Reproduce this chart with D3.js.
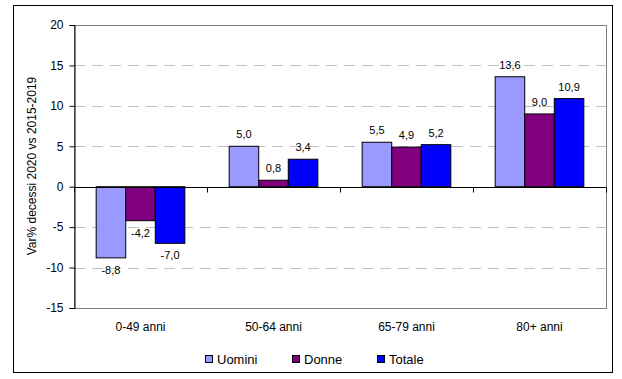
<!DOCTYPE html>
<html><head><meta charset="utf-8">
<script src="https://cdn.jsdelivr.net/npm/d3@7"></script>
<style>body{margin:0;background:#fff}svg{display:block;font-family:"Liberation Sans",Arial,sans-serif}</style>
</head><body><svg id="c" width="622" height="379"></svg>
<script>
const categories = ["0-49 anni","50-64 anni","65-79 anni","80+ anni"];
const seriesNames = ["Uomini","Donne","Totale"];
const uomini = [-8.8, 5.0, 5.5, 13.6];
const donne = [-4.2, 0.8, 4.9, 9.0];
const totale = [-7.0, 3.4, 5.2, 10.9];
const yTicks = [-15,-10,-5,0,5,10,15,20];
const colors = ["#9999FF","#800080","#0000FF"];
const series = [uomini, donne, totale];

const svg = d3.select("#c");
svg.append("rect").attr("x",13.5).attr("y",5.5).attr("width",599).attr("height",367)
  .attr("fill","#fff").attr("stroke","#000").attr("stroke-width",1);

const L=74, R=606, T=25, B=308;
const y = d3.scaleLinear().domain([-15,20]).range([B,T]);
const x0 = d3.scaleBand().domain(categories).range([L,R]).paddingInner(0).paddingOuter(0);
const x1 = d3.scaleBand().domain(seriesNames).range([0,x0.bandwidth()]).paddingInner(0).paddingOuter(0.75);

// gridlines
svg.append("g").selectAll("line").data(yTicks.filter(d=>d!==0 && d!==20 && d!==-15)).join("line")
  .attr("x1",L).attr("x2",R).attr("y1",d=>Math.round(y(d))+0.5).attr("y2",d=>Math.round(y(d))+0.5)
  .attr("stroke","#c0c0c0").attr("stroke-dasharray","11,7");
// plot border (gray)
svg.append("rect").attr("x",L+0.5).attr("y",Math.round(y(20))+0.5).attr("width",R-L).attr("height",Math.round(y(-15))-Math.round(y(20)))
  .attr("fill","none").attr("stroke","#808080");

// bars
const g = svg.append("g");
const fmt = v => d3.format(".1f")(v).replace(".",",").replace("\u2212","-");
categories.forEach((c,i)=>{
  seriesNames.forEach((s,j)=>{
    const v = series[j][i];
    const xx = x0(c)+x1(s);
    const y0 = y(0), yv = y(v);
    g.append("rect").attr("x",xx).attr("y",Math.min(y0,yv)).attr("width",x1.bandwidth())
      .attr("height",Math.abs(yv-y0)).attr("fill",colors[j]).attr("stroke","#000").attr("stroke-width",1);
    g.append("text").attr("x",xx+x1.bandwidth()/2).attr("y", v>=0 ? yv-8 : yv+16)
      .attr("text-anchor","middle").attr("font-size",11).attr("fill","#000")
      .text(fmt(v));
  });
});

// y axis
const ya = d3.axisLeft(y).tickValues(yTicks).tickSize(5).tickFormat(d=>String(d));
const yg = svg.append("g").attr("transform",`translate(${L+0.5},0)`).call(ya);
yg.select(".domain").attr("stroke","#000");
yg.selectAll(".tick line").attr("stroke","#000");
yg.selectAll("text").attr("font-size",12).attr("fill","#000").attr("x",-11).style("font-family","'Liberation Sans',Arial,sans-serif");

// x axis at zero
svg.append("line").attr("x1",L).attr("x2",R).attr("y1",Math.round(y(0))+0.5).attr("y2",Math.round(y(0))+0.5).attr("stroke","#000");
const bounds = categories.map(c=>x0(c)).concat([R]);
svg.append("g").selectAll("line").data(bounds).join("line")
  .attr("x1",d=>Math.round(d)+0.5).attr("x2",d=>Math.round(d)+0.5)
  .attr("y1",Math.round(y(0))+0.5).attr("y2",Math.round(y(0))+5.5).attr("stroke","#000");

// category labels
svg.append("g").selectAll("text").data(categories).join("text")
  .attr("x",d=>x0(d)+x0.bandwidth()/2).attr("y",331).attr("text-anchor","middle")
  .attr("font-size",12).attr("fill","#000").text(d=>d);

// y label
svg.append("text").attr("transform","translate(36,166) rotate(-90)").attr("text-anchor","middle")
  .attr("font-size",12).attr("fill","#000").text("Var% decessi 2020 vs 2015-2019");

// legend
const lx = [205, 292, 377];
seriesNames.forEach((s,j)=>{
  svg.append("rect").attr("x",lx[j]+0.5).attr("y",355.5).attr("width",7).attr("height",7)
    .attr("fill",colors[j]).attr("stroke","#000");
  svg.append("text").attr("x",lx[j]+12).attr("y",364).attr("font-size",13).attr("fill","#000").text(s);
});
</script></body></html>
